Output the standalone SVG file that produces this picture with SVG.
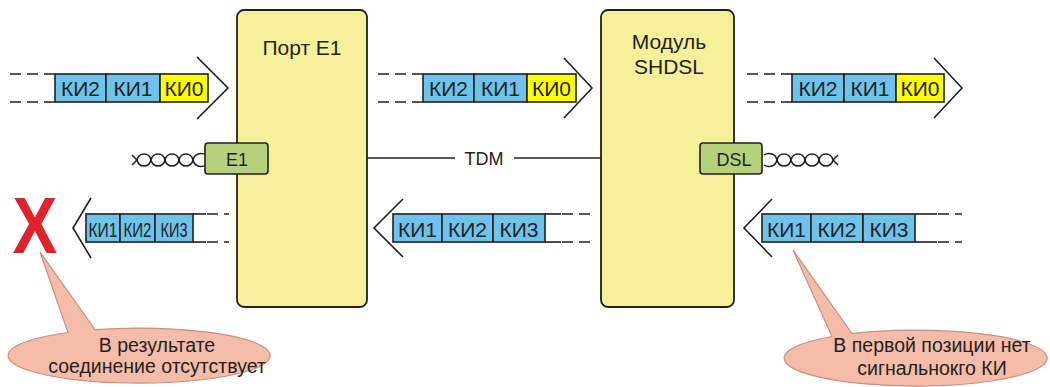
<svg xmlns="http://www.w3.org/2000/svg" xmlns:xlink="http://www.w3.org/1999/xlink" width="1050" height="387" viewBox="0 0 1050 387">
<style>
text{font-family:"Liberation Sans",Arial,sans-serif;fill:#231f20}
.ki{font-size:21px;text-anchor:middle}
.kin{font-size:16px;text-anchor:middle}
.blue{fill:#6ec3ec;stroke:#231f20;stroke-width:1.6}
.yel{fill:#ffff00;stroke:#231f20;stroke-width:1.6}
.ln{stroke:#231f20;stroke-width:1.6;fill:none}
.dash{stroke:#231f20;stroke-width:1.6;fill:none;stroke-dasharray:11 6}
.dev{fill:#f7f09a;stroke:#231f20;stroke-width:1.8}
.port{fill:#b3d27b;stroke:#231f20;stroke-width:1.6}
.call{fill:#f5bcaa;stroke:#c9907f;stroke-width:1.2}
.wire{stroke:#231f20;stroke-width:1.5;fill:none}
.ct{font-size:19.5px;text-anchor:middle}
.dt{font-size:21px;text-anchor:middle}
</style>
<defs>
<g id="twist">
<path class="wire" d="M132,155 L137,160 C139,168 149,168 151,160 C153,152 163,152 165,160 C167,168 177,168 179,160 C181,152 191,152 193,160 C195,168 203,167 206,165"/>
<path class="wire" d="M132,165 L137,160 C139,152 149,152 151,160 C153,168 163,168 165,160 C167,152 177,152 179,160 C181,168 191,168 193,160 C195,152 203,153 206,155"/>
</g>
</defs>

<g id="connectors">
<line class="ln" x1="367" y1="158" x2="455" y2="158"/>
<line class="ln" x1="514" y1="158" x2="601" y2="158"/>
<text x="484" y="164.5" font-size="18" text-anchor="middle">TDM</text>
<use xlink:href="#twist"/>
<use xlink:href="#twist" transform="translate(970,0) scale(-1,1)"/>
</g>

<g id="port-e1">
<rect class="dev" x="237" y="10" width="130" height="297" rx="7"/>
<text class="dt" x="302" y="55">Порт Е1</text>
</g>
<g id="module-shdsl">
<rect class="dev" x="601" y="10" width="133" height="297" rx="7"/>
<text class="dt" x="669" y="49">Модуль</text>
<text class="dt" x="669" y="74">SHDSL</text>
</g>

<g id="e1-iface">
<rect class="port" x="205" y="143" width="63" height="31" rx="3"/>
<text x="237" y="166" font-size="18" text-anchor="middle">E1</text>
</g>
<g id="dsl-iface">
<rect class="port" x="700" y="143" width="62" height="31" rx="3"/>
<text x="734" y="166" font-size="18" text-anchor="middle">DSL</text>
</g>

<g id="frame-top-left">
<line class="dash" x1="10" y1="74" x2="55" y2="74"/>
<line class="dash" x1="10" y1="102" x2="55" y2="102"/>
<rect class="blue" x="55" y="74" width="51" height="28"/>
<rect class="blue" x="106" y="74" width="54" height="28"/>
<rect class="yel" x="160" y="74" width="48" height="28"/>
<text class="ki" x="80.5" y="96">КИ2</text>
<text class="ki" x="133" y="96">КИ1</text>
<text class="ki" x="184" y="96">КИ0</text>
<path class="ln" d="M197,57 L228,88 L197,119"/>
</g>

<g id="frame-top-mid">
<line class="dash" x1="378" y1="74" x2="423" y2="74"/>
<line class="dash" x1="378" y1="102" x2="423" y2="102"/>
<rect class="blue" x="423" y="74" width="51" height="28"/>
<rect class="blue" x="474" y="74" width="53" height="28"/>
<rect class="yel" x="527" y="74" width="49" height="28"/>
<text class="ki" x="448.5" y="96">КИ2</text>
<text class="ki" x="500.5" y="96">КИ1</text>
<text class="ki" x="551.5" y="96">КИ0</text>
<path class="ln" d="M564,58 L592,88 L564,118"/>
</g>

<g id="frame-top-right">
<line class="dash" x1="747" y1="74" x2="792" y2="74"/>
<line class="dash" x1="747" y1="102" x2="792" y2="102"/>
<rect class="blue" x="792" y="74" width="52" height="28"/>
<rect class="blue" x="844" y="74" width="52" height="28"/>
<rect class="yel" x="896" y="74" width="48" height="28"/>
<text class="ki" x="818" y="96">КИ2</text>
<text class="ki" x="870" y="96">КИ1</text>
<text class="ki" x="920" y="96">КИ0</text>
<path class="ln" d="M934,58 L962,88 L934,118"/>
</g>

<g id="frame-bottom-left">
<line class="ln" x1="193" y1="214" x2="206" y2="214"/>
<line class="ln" x1="193" y1="242" x2="206" y2="242"/>
<line class="dash" x1="207" y1="214" x2="229" y2="214"/>
<line class="dash" x1="207" y1="242" x2="229" y2="242"/>
<rect class="blue" x="86" y="214" width="34" height="28"/>
<rect class="blue" x="120" y="214" width="35" height="28"/>
<rect class="blue" x="155" y="214" width="38" height="28"/>
<text class="kin" transform="translate(103,236.5) scale(1,1.3)" textLength="29" lengthAdjust="spacingAndGlyphs">КИ1</text>
<text class="kin" transform="translate(137.5,236.5) scale(1,1.3)" textLength="28" lengthAdjust="spacingAndGlyphs">КИ2</text>
<text class="kin" transform="translate(174,236.5) scale(1,1.3)" textLength="27" lengthAdjust="spacingAndGlyphs">КИ3</text>
<path class="ln" d="M91,198 L73,228 L91,258"/>
</g>

<g id="frame-bottom-mid">
<line class="ln" x1="545" y1="214" x2="561" y2="214"/>
<line class="ln" x1="545" y1="242" x2="561" y2="242"/>
<line class="dash" x1="562" y1="214" x2="591" y2="214"/>
<line class="dash" x1="562" y1="242" x2="591" y2="242"/>
<rect class="blue" x="393" y="214" width="49" height="28"/>
<rect class="blue" x="442" y="214" width="51" height="28"/>
<rect class="blue" x="493" y="214" width="52" height="28"/>
<text class="ki" x="417.5" y="236.5">КИ1</text>
<text class="ki" x="467.5" y="236.5">КИ2</text>
<text class="ki" x="519" y="236.5">КИ3</text>
<path class="ln" d="M403,199 L374,228 L403,257"/>
</g>

<g id="frame-bottom-right">
<line class="ln" x1="915" y1="214" x2="937" y2="214"/>
<line class="ln" x1="915" y1="242" x2="937" y2="242"/>
<line class="dash" x1="938" y1="214" x2="962" y2="214"/>
<line class="dash" x1="938" y1="242" x2="962" y2="242"/>
<rect class="blue" x="762" y="214" width="49" height="28"/>
<rect class="blue" x="811" y="214" width="52" height="28"/>
<rect class="blue" x="863" y="214" width="52" height="28"/>
<text class="ki" x="786.5" y="236.5">КИ1</text>
<text class="ki" x="837" y="236.5">КИ2</text>
<text class="ki" x="889" y="236.5">КИ3</text>
<path class="ln" d="M772,199 L744,228 L772,257"/>
</g>

<g id="callout-left">
<path class="call" d="M68,332.5 L40,252 L95,329.7 A131,27.5 0 1 1 68,332.5 Z"/>
<text class="ct" x="157" y="352">В результате</text>
<text class="ct" x="157" y="373">соединение отсутствует</text>
</g>
<g id="red-x">
<text x="35" y="253" font-size="79" font-weight="bold" text-anchor="middle" style="fill:#e0232b" transform="translate(35,0) scale(0.85,1) translate(-35,0)">X</text>
</g>

<g id="callout-right">
<path class="call" d="M832,336.5 L793,250 L852,333.6 A131.5,28 0 1 1 832,336.5 Z"/>
<text class="ct" x="932" y="352">В первой позиции нет</text>
<text class="ct" x="932" y="375">сигнальнокго КИ</text>
</g>
</svg>
